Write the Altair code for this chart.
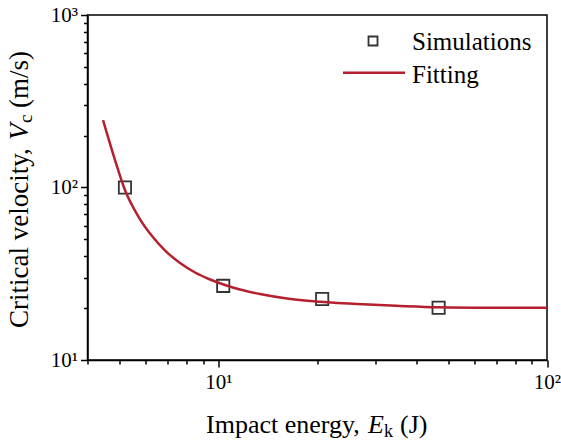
import altair as alt
import pandas as pd

# ---- data ----
sim_x = [5.2, 10.35, 20.7, 46.8]
sim_y = [100, 26.9, 22.6, 20.1]

fit_x = [4.46, 4.85, 5.20, 5.70, 6.34, 6.89, 7.65, 8.50, 9.44, 10.48, 11.64,
         13.39, 16.18, 20.38, 27.54, 35.67, 46.53, 67.0, 100]
fit_y = [246, 144.3, 96.7, 68.35, 51.3, 43.1, 36.5, 32.16, 29.29, 27.22, 25.62,
         24.13, 22.73, 21.78, 21.03, 20.59, 20.24, 20.1, 20.07]

x_tick_values = [4, 5, 6, 7, 8, 9, 10, 20, 30, 40, 50, 60, 70, 80, 90, 100]
y_tick_values = [10, 20, 30, 40, 50, 60, 70, 80, 90, 100,
                 200, 300, 400, 500, 600, 700, 800, 900, 1000]

FONT = "'Liberation Serif', 'Times New Roman', serif"
RED = "#b5202f"

sim_df = pd.DataFrame({"E": sim_x, "V": sim_y})
fit_df = pd.DataFrame({"E": fit_x, "V": fit_y})

xscale = alt.Scale(type="log", domain=[4, 100], nice=False)
yscale = alt.Scale(type="log", domain=[10, 1000], nice=False)

label_expr = ("datum.value == 10 ? '10\u00b9' : datum.value == 100 ? '10\u00b2' : "
              "datum.value == 1000 ? '10\u00b3' : ''")
tick_size = {"condition": {"test": "datum.value == 10 || datum.value == 100 || datum.value == 1000",
                           "value": 7}, "value": 4}

x_axis = alt.Axis(values=x_tick_values, labelExpr=label_expr, title=None, grid=False,
                  tickSize=tick_size, labelFont=FONT, labelFontSize=21,
                  labelColor="black", labelPadding=4, labelOverlap=False,
                  labelFlush=False, domainColor="black", domainWidth=1.5,
                  tickColor="black", tickWidth=1.5)
y_axis = alt.Axis(values=y_tick_values, labelExpr=label_expr, title=None, grid=False,
                  tickSize=tick_size, labelFont=FONT, labelFontSize=21,
                  labelColor="black", labelPadding=3, labelOverlap=False,
                  labelFlush=False, domainColor="black", domainWidth=1.5,
                  tickColor="black", tickWidth=1.5)

points = alt.Chart(sim_df).mark_point(
    shape="square", filled=False, size=150, stroke="#333333", strokeWidth=1.8, opacity=1
).encode(
    x=alt.X("E:Q", scale=xscale, axis=x_axis),
    y=alt.Y("V:Q", scale=yscale, axis=y_axis),
)

line = alt.Chart(fit_df).mark_line(color=RED, strokeWidth=2.5, interpolate="monotone").encode(
    x=alt.X("E:Q", scale=xscale),
    y=alt.Y("V:Q", scale=yscale),
)


def txt(s, x, y, size=26, style="normal", angle=0):
    return alt.Chart(pd.DataFrame({"t": [s]})).mark_text(
        font=FONT, fontSize=size, fontStyle=style, align="left",
        baseline="alphabetic", color="black", angle=angle
    ).encode(text="t:N", x=alt.value(x), y=alt.value(y))

# axis titles (rich text built from pieces); offsets relative to plot origin
PX, PY = 87.5, 15
x_title = [
    txt("Impact energy,", 206 - PX, 433 - PY),
    txt("E", 368 - PX, 433 - PY, style="italic"),
    txt("k", 384 - PX, 437 - PY, size=18),
    txt("(J)", 400 - PX, 433 - PY),
]
y_title = [
    txt("Critical velocity,", 27.5 - PX, 328 - PY, size=27, angle=270),
    txt("V", 27.5 - PX, 140 - PY, size=27, style="italic", angle=270),
    txt("c", 31.5 - PX, 123 - PY, size=19, angle=270),
    txt("(m/s)", 27.5 - PX, 108 - PY, size=27, angle=270),
]

# legend
leg_sq = alt.Chart(pd.DataFrame({"a": [0]})).mark_point(
    shape="square", filled=False, size=81, stroke="#333333", strokeWidth=1.8, opacity=1
).encode(x=alt.value(373 - PX), y=alt.value(41 - PY))
leg_line = alt.Chart(pd.DataFrame({"a": [0]})).mark_rule(color=RED, strokeWidth=2.5).encode(
    x=alt.value(343 - PX), x2=alt.value(405 - PX), y=alt.value(72.7 - PY))
leg_t1 = txt("Simulations", 412 - PX, 50 - PY, size=25)
leg_t2 = txt("Fitting", 412 - PX, 83 - PY, size=25)

chart = alt.layer(
    points, line, *x_title, *y_title, leg_sq, leg_line, leg_t1, leg_t2
).properties(
    width=459.5, height=345,
    autosize=alt.AutoSizeParams(type="none"),
    padding={"left": PX, "top": PY, "right": 14, "bottom": 84},
    background="white",
).configure(font=FONT).configure_view(stroke="black", strokeWidth=1.5)

chart.save("out.html", embed_options={"renderer": "svg", "actions": False})
